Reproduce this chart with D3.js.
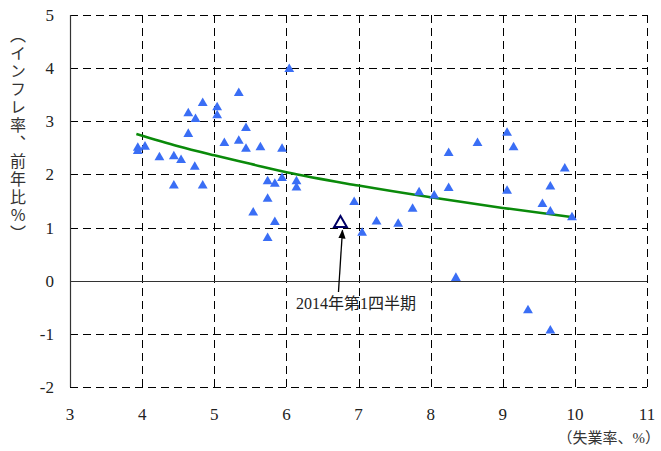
<!DOCTYPE html>
<html><head><meta charset="utf-8">
<script src="https://cdn.jsdelivr.net/npm/d3@7"></script>
<style>body{margin:0;background:#fff}svg{display:block}</style>
</head><body>
<svg id="c" width="661" height="451"></svg>
<script>
const titleText = "米国の失業率とインフレ率の関係（フィリップス曲線）";
const xTicks = [3,4,5,6,7,8,9,10,11];
const yTicks = [-2,-1,0,1,2,3,4,5];
const unemployment = [3.94,3.94,4.04,4.24,4.44,4.54,4.44,4.84,4.73,4.64,4.64,4.74,4.84,5.04,5.04,5.14,
  6.04,5.34,5.44,5.34,5.44,5.64,5.94,5.74,5.84,5.94,6.14,6.14,5.74,5.54,5.84,5.74,
  6.94,7.05,7.25,7.55,7.75,7.84,8.05,8.25,8.35,8.25,8.65,9.06,9.15,9.86,9.06,9.66,9.55,9.66,9.96,9.35,9.66];
const inflation = [2.50,2.44,2.52,2.32,2.34,2.27,1.79,1.79,2.14,2.76,3.15,3.04,3.34,3.26,3.11,2.59,
  3.98,3.53,2.87,2.63,2.48,2.51,2.48,1.87,1.82,1.93,1.87,1.75,1.54,1.28,1.10,0.80,
  1.48,0.90,1.11,1.07,1.35,1.66,1.60,1.74,0.05,2.40,2.59,2.78,2.51,2.11,1.69,1.77,1.44,1.30,1.19,-0.56,-0.94];
const highlightX = [6.75];
const highlightY = [1.08];
const highlightLabel = "2014年第1四半期";
const trendX = [3.92,4.5,5,5.5,6,7,8,9,9.95];
const trendY = [2.76,2.53,2.36,2.20,2.04,1.79,1.57,1.37,1.20];

const svg = d3.select("#c");
const L=70,R=647,T=15,B=387;
const x = d3.scaleLinear().domain([3,11]).range([L,R]);
const y = d3.scaleLinear().domain([-2,5]).range([B,T]);
const serif = "'Liberation Serif','Times New Roman',serif";
const cjk = "'Liberation Serif','Noto Sans CJK JP',serif";

// title (clipped at the top edge, as in the reference)
svg.append("text").attr("x",355).attr("y",-4).attr("text-anchor","middle")
  .attr("font-family","'Noto Sans CJK JP'").attr("font-size",20).attr("fill","#222").text(titleText);

const g = svg.append("g");
// grid
g.selectAll(".vg").data(xTicks.filter(d=>d>3)).join("line")
  .attr("x1",d=>Math.round(x(d))+0.5).attr("x2",d=>Math.round(x(d))+0.5).attr("y1",T).attr("y2",B)
  .attr("stroke","#000").attr("stroke-width",1).attr("stroke-dasharray","8,5");
g.selectAll(".hg").data(yTicks.filter(d=>d!==0)).join("line")
  .attr("x1",L).attr("x2",R).attr("y1",d=>Math.round(y(d))+0.5).attr("y2",d=>Math.round(y(d))+0.5)
  .attr("stroke","#000").attr("stroke-width",1).attr("stroke-dasharray","8,5");
// zero line
g.append("line").attr("x1",L).attr("x2",R).attr("y1",Math.round(y(0))+0.5).attr("y2",Math.round(y(0))+0.5)
  .attr("stroke","#333").attr("stroke-width",1.2);
// left axis
g.append("line").attr("x1",L+0.5).attr("x2",L+0.5).attr("y1",T).attr("y2",B).attr("stroke","#333").attr("stroke-width",1.2);

// tick labels
svg.selectAll(".yt").data(yTicks).join("text")
  .attr("x",54).attr("y",d=>y(d)+6).attr("text-anchor","end")
  .attr("font-family",serif).attr("font-size",17).attr("fill","#222").text(d=>d);
svg.selectAll(".xt").data(xTicks).join("text")
  .attr("x",d=>x(d)).attr("y",420).attr("text-anchor","middle")
  .attr("font-family",serif).attr("font-size",17).attr("fill","#222").text(d=>d);

// axis titles
svg.append("text").attr("x",18).attr("y",27)
  .style("writing-mode","vertical-rl").style("text-orientation","upright")
  .attr("font-family","'Noto Sans CJK JP'").attr("font-size",16).attr("letter-spacing",2).attr("fill","#333")
  .text("（インフレ率、前年比%）");
svg.append("text").attr("x",660).attr("y",443).attr("text-anchor","end")
  .attr("font-family",cjk).attr("font-size",15).attr("fill","#333").text("（失業率、%）");

// trend
const line = d3.line().x((d,i)=>x(trendX[i])).y((d,i)=>y(trendY[i])).curve(d3.curveMonotoneX);
g.append("path").attr("d",line(trendX)).attr("fill","none").attr("stroke","#0a8a0a").attr("stroke-width",2.5);

// points
const tri = d3.symbol().type(d3.symbolTriangle).size(42);
g.selectAll(".pt").data(unemployment).join("path")
  .attr("d",tri).attr("transform",(d,i)=>`translate(${x(d)},${y(inflation[i])})`)
  .attr("fill","#3a6ef5");

// highlight
g.selectAll(".hl").data(highlightX).join("path")
  .attr("d",d3.symbol().type(d3.symbolTriangle).size(70))
  .attr("transform",(d,i)=>`translate(${x(d)},${y(highlightY[i])})`)
  .attr("fill","#fff").attr("stroke","#000066").attr("stroke-width",2);

// arrow
svg.append("defs").append("marker").attr("id","ah").attr("viewBox","0 0 10 10").attr("refX",9).attr("refY",5)
  .attr("markerWidth",7).attr("markerHeight",7).attr("orient","auto")
  .append("path").attr("d","M0,1 L10,5 L0,9 z").attr("fill","#000");
const hx = x(highlightX[0]), hy = y(highlightY[0]);
svg.append("line").attr("x1",hx-2).attr("y1",292).attr("x2",hx+2).attr("y2",hy+7)
  .attr("stroke","#000").attr("stroke-width",1.3).attr("marker-end","url(#ah)");
svg.append("text").attr("x",296).attr("y",309).attr("font-family",cjk).attr("font-size",16).attr("fill","#222")
  .text(highlightLabel);
</script>
</body></html>
